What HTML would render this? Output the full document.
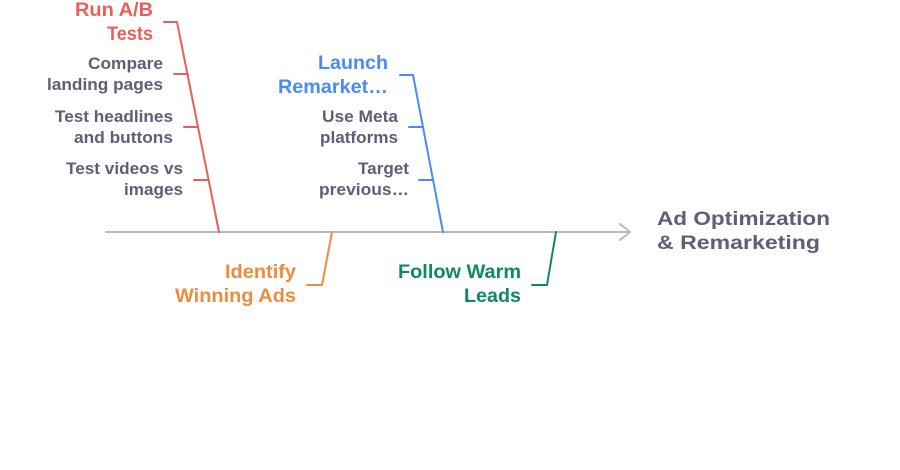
<!DOCTYPE html>
<html><head><style>
body{margin:0;background:#fff;width:900px;height:465px;overflow:hidden}
</style></head><body>
<svg width="900" height="465" xmlns="http://www.w3.org/2000/svg" font-family="Liberation Sans, sans-serif" font-weight="bold">
<g fill="none" stroke-width="2" stroke-linecap="round" stroke-linejoin="round">
<line x1="106" y1="232" x2="630" y2="232" stroke="#b9b9c4"/>
<polyline points="620,224 630,232 620,240" stroke="#b9b9c4"/>
<polyline points="164,22 177,22 219,232" stroke="#e8605a"/>
<line x1="174" y1="74" x2="188" y2="74" stroke="#e8605a"/>
<line x1="184" y1="127" x2="198" y2="127" stroke="#e8605a"/>
<line x1="194" y1="180" x2="208" y2="180" stroke="#e8605a"/>
<polyline points="400,75 413,75 443,232" stroke="#4b8bf5"/>
<line x1="409" y1="127" x2="423" y2="127" stroke="#4b8bf5"/>
<line x1="419" y1="180" x2="433" y2="180" stroke="#4b8bf5"/>
<polyline points="332,232 322,285 307,285" stroke="#f08a3c"/>
<polyline points="556,232 547,285 532,285" stroke="#0e8a5f"/>
</g>
<g font-size="19.5" fill="#e8605a">
<text x="75" y="16" textLength="78" lengthAdjust="spacingAndGlyphs">Run A/B</text>
<text x="107" y="40" textLength="46" lengthAdjust="spacingAndGlyphs">Tests</text>
</g>
<g font-size="16.5" fill="#5e5e78">
<text x="88" y="69" textLength="75" lengthAdjust="spacingAndGlyphs">Compare</text>
<text x="47" y="90" textLength="116" lengthAdjust="spacingAndGlyphs">landing pages</text>
<text x="55" y="122" textLength="118" lengthAdjust="spacingAndGlyphs">Test headlines</text>
<text x="74" y="143" textLength="99" lengthAdjust="spacingAndGlyphs">and buttons</text>
<text x="66" y="174" textLength="117" lengthAdjust="spacingAndGlyphs">Test videos vs</text>
<text x="124" y="195" textLength="59" lengthAdjust="spacingAndGlyphs">images</text>
<text x="322" y="122" textLength="76" lengthAdjust="spacingAndGlyphs">Use Meta</text>
<text x="320" y="143" textLength="78" lengthAdjust="spacingAndGlyphs">platforms</text>
<text x="358" y="174" textLength="51" lengthAdjust="spacingAndGlyphs">Target</text>
<text x="319" y="195" textLength="90" lengthAdjust="spacingAndGlyphs">previous…</text>
</g>
<g font-size="19.5">
<text x="318" y="69" fill="#4b8bf5" textLength="70" lengthAdjust="spacingAndGlyphs">Launch</text>
<text x="278" y="93" fill="#4b8bf5" textLength="110" lengthAdjust="spacingAndGlyphs">Remarket…</text>
<text x="225" y="278" fill="#f08a3c" textLength="71" lengthAdjust="spacingAndGlyphs">Identify</text>
<text x="175" y="302" fill="#f08a3c" textLength="121" lengthAdjust="spacingAndGlyphs">Winning Ads</text>
<text x="398" y="278" fill="#0e8a5f" textLength="123" lengthAdjust="spacingAndGlyphs">Follow Warm</text>
<text x="464" y="302" fill="#0e8a5f" textLength="57" lengthAdjust="spacingAndGlyphs">Leads</text>
<text x="657" y="225" fill="#5e5e78" textLength="173" lengthAdjust="spacingAndGlyphs">Ad Optimization</text>
<text x="657" y="249" fill="#5e5e78" textLength="163" lengthAdjust="spacingAndGlyphs">&amp; Remarketing</text>
</g>
</svg>
</body></html>
